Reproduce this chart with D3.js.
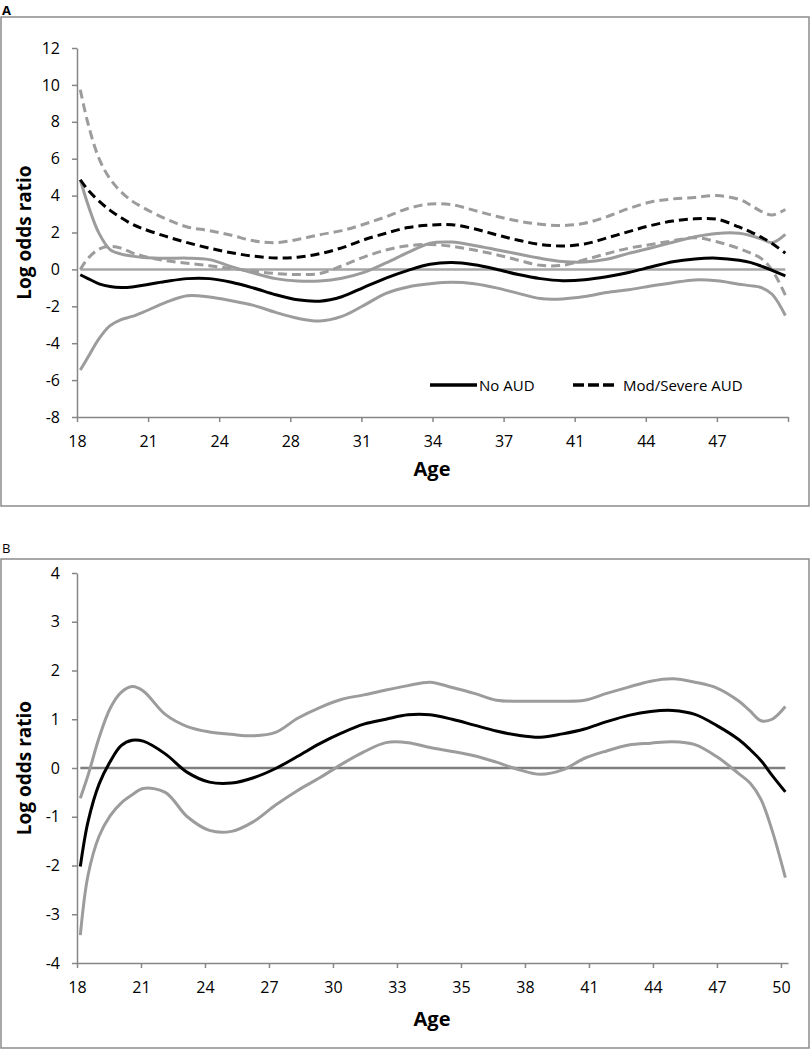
<!DOCTYPE html>
<html><head><meta charset="utf-8">
<script src="https://cdn.jsdelivr.net/npm/d3@7"></script>
<style>body{margin:0;background:#fff} svg{display:block}</style>
</head><body><svg id="chart" width="811" height="1050"></svg>
<script>
// ---- data ----
const ages = [18.15,18.5,19,19.5,20,20.5,21,22,23,24,25,26,27,28,29,30,31,32,33,34,35,36,37,38,39,40,41,42,43,44,45,46,47,48,48.5,49,49.5,50.1];

// Panel A
const noAudA     = [-0.29,-0.5,-0.78,-0.93,-0.98,-0.95,-0.86,-0.66,-0.5,-0.5,-0.7,-1.01,-1.37,-1.65,-1.72,-1.48,-0.97,-0.47,-0.05,0.28,0.37,0.25,0.01,-0.28,-0.5,-0.61,-0.56,-0.4,-0.17,0.13,0.42,0.57,0.61,0.5,0.38,0.18,-0.05,-0.35];
const noAudHighA = [4.86,3.5,1.95,1.07,0.83,0.72,0.65,0.6,0.61,0.53,0.15,-0.2,-0.5,-0.63,-0.63,-0.48,-0.16,0.35,0.92,1.42,1.48,1.3,1.07,0.83,0.6,0.43,0.4,0.55,0.87,1.16,1.47,1.77,1.95,1.96,1.84,1.66,1.45,1.9];
const noAudLowA  = [-5.45,-4.75,-3.75,-3.05,-2.72,-2.55,-2.32,-1.8,-1.43,-1.5,-1.7,-1.95,-2.33,-2.65,-2.8,-2.55,-1.95,-1.3,-0.95,-0.78,-0.7,-0.78,-1.0,-1.3,-1.58,-1.6,-1.47,-1.25,-1.1,-0.9,-0.72,-0.57,-0.62,-0.8,-0.88,-0.98,-1.35,-2.5];
const modSevA     = [4.86,4.3,3.7,3.2,2.8,2.45,2.2,1.8,1.45,1.15,0.9,0.72,0.62,0.66,0.85,1.17,1.6,1.96,2.27,2.4,2.42,2.2,1.88,1.58,1.35,1.27,1.38,1.7,2.05,2.38,2.62,2.74,2.72,2.3,2.05,1.75,1.4,0.88];
const modSevHighA = [9.74,7.9,6.0,4.9,4.2,3.7,3.35,2.75,2.3,2.1,1.85,1.55,1.45,1.62,1.88,2.1,2.45,2.85,3.3,3.55,3.5,3.2,2.88,2.62,2.45,2.38,2.5,2.85,3.3,3.65,3.82,3.9,4.0,3.8,3.5,3.15,2.95,3.25];
const modSevLowA  = [0.0,0.6,1.1,1.25,1.15,0.9,0.72,0.48,0.33,0.2,0.05,-0.1,-0.22,-0.28,-0.22,0.19,0.67,1.05,1.28,1.35,1.25,1.05,0.8,0.5,0.22,0.22,0.52,0.85,1.15,1.35,1.55,1.72,1.5,1.13,0.9,0.6,-0.03,-1.4];

// Panel B
const estB  = [-2.02,-1.1,-0.33,0.13,0.46,0.57,0.55,0.29,-0.09,-0.29,-0.31,-0.2,-0.01,0.24,0.5,0.72,0.9,1.0,1.09,1.09,1.0,0.88,0.76,0.67,0.63,0.7,0.8,0.95,1.08,1.16,1.18,1.1,0.87,0.58,0.38,0.15,-0.15,-0.49];
const highB = [-0.62,-0.15,0.62,1.22,1.55,1.67,1.58,1.1,0.85,0.74,0.69,0.66,0.73,1.02,1.24,1.41,1.5,1.6,1.69,1.76,1.65,1.53,1.39,1.37,1.37,1.37,1.39,1.53,1.66,1.78,1.83,1.76,1.64,1.37,1.17,0.97,1.0,1.26];
const lowB  = [-3.43,-2.2,-1.4,-0.98,-0.72,-0.55,-0.42,-0.5,-1.0,-1.28,-1.3,-1.1,-0.76,-0.46,-0.2,0.08,0.33,0.52,0.52,0.42,0.34,0.25,0.12,-0.03,-0.13,-0.04,0.2,0.35,0.47,0.51,0.54,0.48,0.23,-0.12,-0.31,-0.65,-1.28,-2.25];

// ticks
const yTicksA = [-8,-6,-4,-2,0,2,4,6,8,10,12];
const yTicksB = [-4,-3,-2,-1,0,1,2,3,4];
const xLabelsA = ["18","21","24","28","31","34","37","41","44","47",""];
const xLabelsB = ["18","21","24","27","30","33","35","38","41","44","47","50"];
const xStepA = 3.222, xStepB = 2.9;
const ageDomain = [18, 50.22];

const legendLabels = ["No AUD", "Mod/Severe AUD"];

// ---- drawing ----
const FONT = '"Open Sans", sans-serif';
const AXIS = "#868686", GRAY = "#9c9c9c", FRAME = "#8c8c8c";
const svg = d3.select("#chart");
svg.append("rect").attr("width", 811).attr("height", 1050).attr("fill", "#fff");

function panel(cfg) {
  const g = svg.append("g");
  // frame
  g.append("rect").attr("x", cfg.frame[0]).attr("y", cfg.frame[1]).attr("width", cfg.frame[2]).attr("height", cfg.frame[3])
    .attr("fill", "none").attr("stroke", FRAME).attr("stroke-width", 1.5);
  g.append("text").attr("x", 2).attr("y", cfg.letterY).text(cfg.letter)
    .attr("font-family", FONT).attr("font-size", 13).attr("font-weight", cfg.letterBold ? "bold" : "normal");

  const x = d3.scaleLinear().domain(ageDomain).range([77, 788]);
  const y = d3.scaleLinear().domain(cfg.yDomain).range(cfg.yRange);

  const gy = g.append("g").attr("transform", "translate(77,0)")
    .call(d3.axisLeft(y).tickValues(cfg.yTicks).tickSize(5).tickSizeOuter(0).tickPadding(12).tickFormat(d => String(d)));
  const axisBottomY = cfg.yRange[0];
  const xt = d3.range(cfg.xLabels.length).map(i => ageDomain[0] + i * cfg.xStep);
  const gx = g.append("g").attr("transform", `translate(0,${axisBottomY})`)
    .call(d3.axisBottom(x).tickValues(xt).tickSize(5).tickSizeOuter(0).tickFormat((d, i) => cfg.xLabels[i]));
  [gy, gx].forEach(a => {
    a.attr("font-family", FONT).attr("font-size", 16);
    a.select(".domain").attr("stroke", AXIS).attr("stroke-width", 1.5);
    a.selectAll(".tick line").attr("stroke", AXIS).attr("stroke-width", 1.5);
    a.selectAll(".tick text").attr("fill", "#000");
  });
  gx.selectAll(".tick text").attr("y", 30).attr("dy", 0);

  // titles
  g.append("text").attr("x", 432).attr("y", axisBottomY + cfg.ageOffset).attr("text-anchor", "middle")
    .attr("font-family", FONT).attr("font-weight", "bold").attr("font-size", 20).text("Age");
  const cy = (cfg.yRange[0] + cfg.yRange[1]) / 2;
  g.append("text").attr("transform", `translate(31,${cy}) rotate(-90)`).attr("text-anchor", "middle")
    .attr("font-family", FONT).attr("font-weight", "bold").attr("font-size", 19).text("Log odds ratio");

  const line = d3.line().x((d, i) => x(ages[i])).y(d => y(d)).curve(d3.curveCatmullRom.alpha(0.5));
  // zero line
  g.append("path").attr("d", line(ages.map(() => 0))).attr("fill", "none")
    .attr("stroke", cfg.zeroColor).attr("stroke-width", 2.5);
  cfg.series.forEach(s => {
    g.append("path").attr("d", line(s.values)).attr("fill", "none")
      .attr("stroke", s.color).attr("stroke-width", 3)
      .attr("stroke-dasharray", s.dash ? "9,5" : null);
  });
  return { g, x, y };
}

panel({
  frame: [1, 17, 808, 489], letter: "A", letterY: 14.5, letterBold: true,
  yDomain: [-8, 12], yRange: [417, 48], yTicks: yTicksA,
  xLabels: xLabelsA, xStep: xStepA, ageOffset: 59, zeroColor: "#a6a6a6",
  series: [
    { values: noAudHighA, color: GRAY },
    { values: noAudLowA, color: GRAY },
    { values: modSevHighA, color: GRAY, dash: true },
    { values: modSevLowA, color: GRAY, dash: true },
    { values: noAudA, color: "#000" },
    { values: modSevA, color: "#000", dash: true }
  ]
});

// legend (panel A)
const lg = svg.append("g").attr("font-family", FONT).attr("font-size", 15);
lg.append("line").attr("x1", 430).attr("x2", 477).attr("y1", 385).attr("y2", 385).attr("stroke", "#000").attr("stroke-width", 3.5);
lg.append("text").attr("x", 479).attr("y", 390.5).text(legendLabels[0]);
lg.append("line").attr("x1", 573).attr("x2", 615).attr("y1", 385).attr("y2", 385).attr("stroke", "#000").attr("stroke-width", 3.5).attr("stroke-dasharray", "11,4");
lg.append("text").attr("x", 623).attr("y", 390.5).text(legendLabels[1]);

panel({
  frame: [1, 559, 808, 489], letter: "B", letterY: 553, letterBold: false,
  yDomain: [-4, 4], yRange: [963, 573], yTicks: yTicksB,
  xLabels: xLabelsB, xStep: xStepB, ageOffset: 63, zeroColor: "#7f7f7f",
  series: [
    { values: highB, color: GRAY },
    { values: lowB, color: GRAY },
    { values: estB, color: "#000" }
  ]
});
</script>
</body></html>
